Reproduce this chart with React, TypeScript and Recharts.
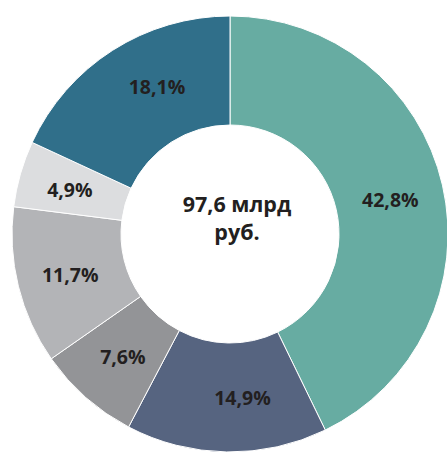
import { PieChart, Pie, Cell } from "recharts";

const labels = ["42,8%", "14,9%", "7,6%", "11,7%", "4,9%", "18,1%"];
const shares = [42.8, 14.9, 7.6, 11.7, 4.9, 18.1];
const colors = ["#67aca2", "#566480", "#939497", "#b3b4b7", "#dcdddf", "#306f8a"];
const centerLines = ["97,6 млрд", "руб."];

const data = shares.map((value, i) => ({ name: labels[i], value }));

const RADIAN = Math.PI / 180;
const FONT = "'Open Sans', 'Noto Sans', sans-serif";

// Excel's "best fit" puts a couple of labels off the slice middle
const labelNudge: [number, number][] = [
  [1, 2],
  [15, 0],
  [1, 0],
  [-1, 1],
  [-3, 1],
  [15, -10],
];

function renderLabel(props: any) {
  const { cx, cy, midAngle, innerRadius, outerRadius, index } = props;
  const r = (innerRadius + outerRadius) / 2;
  const [dx, dy] = labelNudge[index];
  const x = cx + r * Math.cos(-midAngle * RADIAN) + dx;
  const y = cy + r * Math.sin(-midAngle * RADIAN) + dy;
  return (
    <text
      x={x}
      y={y}
      textAnchor="middle"
      dominantBaseline="central"
      fill="#231f20"
      fontFamily={FONT}
      fontWeight={700}
      fontSize={19.5}
    >
      {labels[index]}
    </text>
  );
}

export default function App() {
  return (
    <div
      style={{
        position: "absolute",
        left: 0,
        top: 0,
        width: 447,
        height: 452,
        overflow: "hidden",
        background: "#fff",
      }}
    >
      <PieChart width={447} height={452} margin={{ top: 0, right: 0, bottom: 0, left: 0 }}>
        <Pie
          data={data}
          dataKey="value"
          cx={230}
          cy={234}
          innerRadius={109}
          outerRadius={218}
          startAngle={90}
          endAngle={-270}
          stroke="#ffffff"
          strokeWidth={1}
          label={renderLabel}
          labelLine={false}
          isAnimationActive={false}
        >
          {data.map((d, i) => (
            <Cell key={d.name} fill={colors[i]} />
          ))}
        </Pie>
        <text
          x={237}
          y={212}
          textAnchor="middle"
          fill="#231f20"
          fontFamily={FONT}
          fontWeight={700}
          fontSize={21.5}
        >
          <tspan x={237} y={212}>{centerLines[0]}</tspan>
          <tspan x={237} y={240}>{centerLines[1]}</tspan>
        </text>
      </PieChart>
    </div>
  );
}
